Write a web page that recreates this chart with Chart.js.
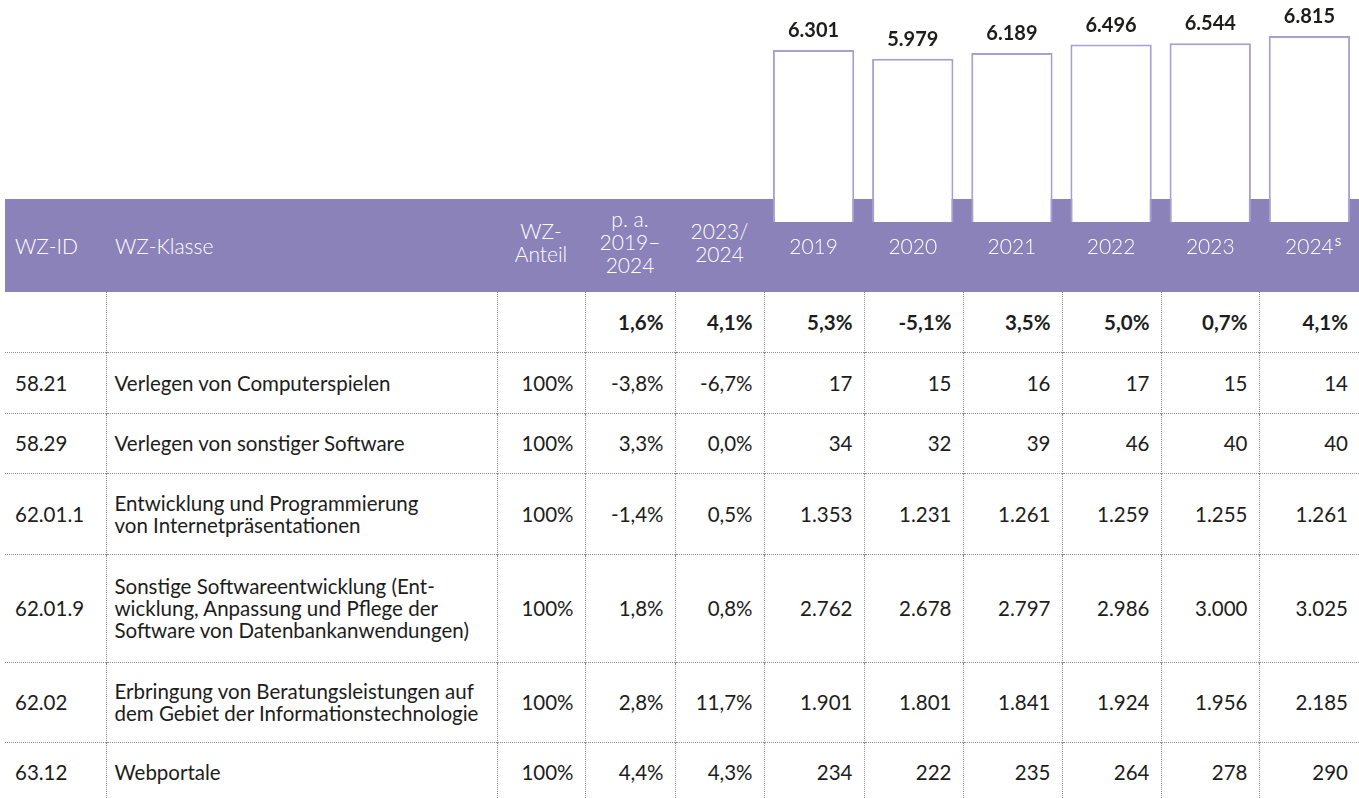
<!DOCTYPE html>
<html lang="de">
<head>
<meta charset="utf-8">
<title>WZ-Klassen Software</title>
<script src="https://cdn.jsdelivr.net/npm/chart.js@4.4.1/dist/chart.umd.min.js"></script>
<style>
  body { margin: 0; background: #fff; font-family: Lato, sans-serif; color: #1d1d1b; }
  #wrap { position: relative; width: 1359px; height: 798px; overflow: hidden; }
  #tbl { position: absolute; left: 5px; top: 199px; width: 1354px; border-collapse: collapse; table-layout: fixed; }
  #tbl th { background: #8b82b9; color: #fff; font-weight: 300; font-size: 21px; line-height: 23px; height: 93px; padding: 0; text-align: center; }
  #tbl th.l { text-align: left; padding-left: 10px; }
  #tbl th.k { padding-left: 9px; }
  #tbl th span { position: relative; top: -4px; }
  #tbl td { font-size: 20.5px; line-height: 22px; padding: 0 11px 0 0; text-align: right; vertical-align: middle;
            border-left: 1px dotted #8e8e8e; border-top: 1px dotted #8e8e8e; white-space: nowrap; }
  #tbl td.id { text-align: left; padding-left: 10px; border-left: none; }
  #tbl td.kl { text-align: left; padding-left: 8px; }
  #tbl tr.sum td { font-weight: 700; border-top: none; }
  #myChart { position: absolute; left: 764px; top: 0; z-index: 2; pointer-events: none; }
</style>
</head>
<body>
<div id="wrap">
  <table id="tbl">
    <colgroup>
      <col style="width:101px"><col style="width:391px"><col style="width:88px"><col style="width:90px"><col style="width:89px">
      <col style="width:100px"><col style="width:99px"><col style="width:99px"><col style="width:99px"><col style="width:98px"><col style="width:100px">
    </colgroup>
    <thead>
      <tr>
        <th class="l">WZ-ID</th>
        <th class="l k">WZ-Klasse</th>
        <th><span>WZ-<br>Anteil</span></th>
        <th><span>p. a.<br>2019–<br>2024</span></th>
        <th><span>2023/<br>2024</span></th>
        <th></th><th></th><th></th><th></th><th></th><th></th>
      </tr>
    </thead>
    <tbody id="body"></tbody>
  </table>
  <canvas id="myChart" width="595" height="292"></canvas>
</div>
<script>
// Data
const years = ['2019', '2020', '2021', '2022', '2023', '2024'];
const yearNotes = ['', '', '', '', '', 'S'];
const totals = [6301, 5979, 6189, 6496, 6544, 6815];
const totalChange = [5.3, -5.1, 3.5, 5.0, 0.7, 4.1];
const totalCagr = 1.6;
const totalYoY = 4.1;

const wzIds = ['58.21', '58.29', '62.01.1', '62.01.9', '62.02', '63.12'];
const wzKlassen = [
    'Verlegen von Computerspielen',
    'Verlegen von sonstiger Software',
    'Entwicklung und Programmierung\nvon Internetpräsentationen',
    'Sonstige Softwareentwicklung (Ent-\nwicklung, Anpassung und Pflege der\nSoftware von Datenbankanwendungen)',
    'Erbringung von Beratungsleistungen auf\ndem Gebiet der Informationstechnologie',
    'Webportale'
];
const wzAnteil = [100, 100, 100, 100, 100, 100];
const cagr = [-3.8, 3.3, -1.4, 1.8, 2.8, 4.4];
const yoy = [-6.7, 0.0, 0.5, 0.8, 11.7, 4.3];

const values58_21 = [17, 15, 16, 17, 15, 14];
const values58_29 = [34, 32, 39, 46, 40, 40];
const values62_01_1 = [1353, 1231, 1261, 1259, 1255, 1261];
const values62_01_9 = [2762, 2678, 2797, 2986, 3000, 3025];
const values62_02 = [1901, 1801, 1841, 1924, 1956, 2185];
const values63_12 = [234, 222, 235, 264, 278, 290];
const rowValues = [values58_21, values58_29, values62_01_1, values62_01_9, values62_02, values63_12];

// German number formats
const fmtNum = (n) => String(n).replace(/\B(?=(\d{3})+(?!\d))/g, '.');
const fmtPct = (n) => n.toFixed(1).replace('.', ',') + '%';

// Table body
const rowHeights = [60, 61, 60, 81, 108, 80, 60];
const tbody = document.getElementById('body');
let html = '<tr class="sum" style="height:' + rowHeights[0] + 'px"><td class="id"></td><td class="kl"></td><td></td>' +
    '<td>' + fmtPct(totalCagr) + '</td><td>' + fmtPct(totalYoY) + '</td>' +
    totalChange.map((v) => '<td>' + fmtPct(v) + '</td>').join('') + '</tr>';
wzIds.forEach((id, i) => {
    html += '<tr style="height:' + rowHeights[i + 1] + 'px">' +
        '<td class="id">' + id + '</td>' +
        '<td class="kl">' + wzKlassen[i].replace(/\n/g, '<br>') + '</td>' +
        '<td>' + wzAnteil[i] + '%</td>' +
        '<td>' + fmtPct(cagr[i]) + '</td>' +
        '<td>' + fmtPct(yoy[i]) + '</td>' +
        rowValues[i].map((v) => '<td>' + fmtNum(v) + '</td>').join('') + '</tr>';
});
tbody.innerHTML = html;

// Value labels above the bars
const barLabels = {
    id: 'barLabels',
    afterDatasetsDraw(chart) {
        const { ctx } = chart;
        ctx.save();
        ctx.font = 'bold 20px Lato';
        ctx.fillStyle = '#1d1d1b';
        ctx.textAlign = 'center';
        ctx.textBaseline = 'alphabetic';
        chart.getDatasetMeta(0).data.forEach((bar, i) => {
            ctx.fillText(fmtNum(totals[i]), bar.x, bar.y - 13);
        });
        ctx.restore();
    }
};

// Superscript note next to a year label
const yearNote = {
    id: 'yearNote',
    afterDraw(chart) {
        const { ctx } = chart;
        const x = chart.scales.x;
        ctx.save();
        ctx.fillStyle = '#fff';
        ctx.textBaseline = 'top';
        yearNotes.forEach((note, i) => {
            if (!note) return;
            ctx.font = '300 21px Lato';
            const w = ctx.measureText(years[i]).width;
            ctx.font = '12px Lato';
            ctx.fillText(note, x.getPixelForTick(i) + w / 2 + 1, x.top + 14);
        });
        ctx.restore();
    }
};

const ctx = document.getElementById('myChart');
const chart = new Chart(ctx, {
    type: 'bar',
    data: {
        labels: years,
        datasets: [{
            data: totals,
            backgroundColor: '#ffffff',
            borderColor: '#a79fd3',
            borderWidth: 2,
            categoryPercentage: 1,
            barPercentage: 0.82
        }]
    },
    options: {
        responsive: false,
        animation: false,
        events: [],
        layout: { padding: 0 },
        plugins: { legend: { display: false }, tooltip: { enabled: false } },
        scales: {
            y: { display: false, min: 0, max: 8130 },
            x: {
                grid: { display: false, drawTicks: false },
                border: { display: false },
                ticks: { color: '#fff', font: { family: 'Lato', size: 21, weight: 300 }, padding: 13 },
                afterFit: (scale) => { scale.height = 70; }
            }
        }
    },
    plugins: [barLabels, yearNote]
});
</script>
</body>
</html>
